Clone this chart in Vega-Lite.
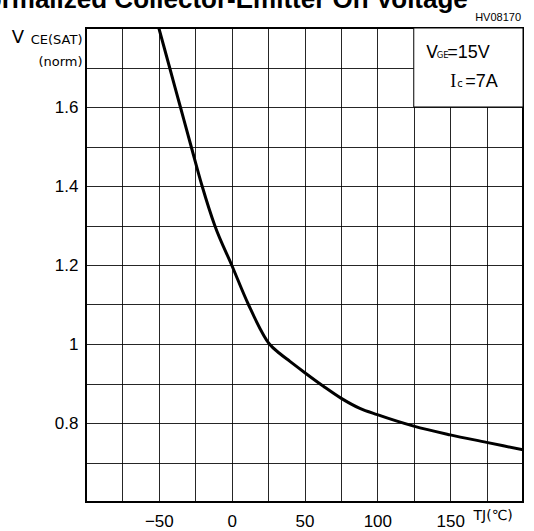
{
  "$schema": "https://vega.github.io/schema/vega-lite/v6.json",
  "width": 437,
  "height": 474,
  "autosize": {"type": "none"},
  "padding": {"left": 86, "top": 28, "right": 11, "bottom": 29},
  "background": "white",
  "config": {
    "view": {"stroke": "#000", "strokeWidth": 2},
    "axis": {
      "grid": true,
      "gridColor": "#000",
      "gridOpacity": 0.85,
      "gridWidth": 1,
      "domain": false,
      "ticks": false,
      "tickCount": 30,
      "labelFont": "Liberation Sans",
      "labelFontSize": 17,
      "labelColor": "#000",
      "titleColor": "#000",
      "titleFont": "DejaVu Sans",
      "titleFontWeight": "normal"
    }
  },
  "datasets": {
    "curve": [
      {"tj": -50, "v": 1.80},
      {"tj": -42.6, "v": 1.70},
      {"tj": -35.2, "v": 1.60},
      {"tj": -27.8, "v": 1.50},
      {"tj": -20.3, "v": 1.40},
      {"tj": -11.6, "v": 1.30},
      {"tj": 0, "v": 1.20},
      {"tj": 11.5, "v": 1.10},
      {"tj": 25.9, "v": 1.00},
      {"tj": 33, "v": 0.976},
      {"tj": 40, "v": 0.956},
      {"tj": 50, "v": 0.928},
      {"tj": 63, "v": 0.893},
      {"tj": 75, "v": 0.863},
      {"tj": 88, "v": 0.837},
      {"tj": 100, "v": 0.821},
      {"tj": 125, "v": 0.792},
      {"tj": 150, "v": 0.770},
      {"tj": 175, "v": 0.751},
      {"tj": 200, "v": 0.732}
    ],
    "one": [{}]
  },
  "layer": [
    {
      "data": {"name": "curve"},
      "mark": {"type": "line", "color": "#000", "strokeWidth": 3, "interpolate": "monotone", "clip": true},
      "encoding": {
        "x": {
          "field": "tj",
          "type": "quantitative",
          "scale": {"domain": [-100, 200], "nice": false, "zero": false},
          "axis": {
            "values": [-100, -75, -50, -25, 0, 25, 50, 75, 100, 125, 150, 175, 200],
            "tickCount": 30,
            "labelExpr": "(datum.value % 50 === 0 && datum.value > -100 && datum.value < 200) ? datum.label : ''",
            "labelPadding": 11,
            "labelFlush": false,
            "labelOverlap": false,
            "title": "TJ(℃)",
            "titleFontSize": 14,
            "titleAnchor": "start",
            "titleAlign": "left",
            "titleBaseline": "alphabetic",
            "titleX": 387,
            "titleY": 17
          }
        },
        "y": {
          "field": "v",
          "type": "quantitative",
          "scale": {"domain": [0.6, 1.8], "nice": false, "zero": false},
          "axis": {
            "values": [0.6, 0.7, 0.8, 0.9, 1.0, 1.1, 1.2, 1.3, 1.4, 1.5, 1.6, 1.7, 1.8],
            "tickCount": 30,
            "labelExpr": "(round(datum.value * 10) % 2 === 0 && datum.value > 0.75 && datum.value < 1.65) ? format(datum.value, '.1~f') : ''",
            "labelPadding": 8,
            "labelFlush": false,
            "labelOverlap": false,
            "title": ["CE(SAT)", "(norm)"],
            "titleFontSize": 13,
            "titleAngle": 0,
            "titleAlign": "right",
            "titleBaseline": "alphabetic",
            "titleLineHeight": 22,
            "titleX": -4,
            "titleY": 15
          }
        }
      }
    },
    {
      "data": {"name": "one"},
      "mark": {"type": "rect", "fill": "white", "stroke": "#000", "strokeWidth": 1},
      "encoding": {
        "x": {"datum": 125, "type": "quantitative"},
        "x2": {"datum": 200},
        "y": {"datum": 1.6, "type": "quantitative"},
        "y2": {"datum": 1.8}
      }
    },
    {
      "data": {"name": "one"},
      "mark": {"type": "text", "text": "V", "align": "right", "baseline": "alphabetic", "dx": -62, "dy": 15, "font": "DejaVu Sans", "fontSize": 18, "color": "#000"},
      "encoding": {"x": {"datum": -100}, "y": {"datum": 1.8}}
    },
    {
      "data": {"name": "one"},
      "mark": {"type": "text", "text": "Normalized Collector-Emitter On Voltage", "align": "left", "baseline": "alphabetic", "dx": -119, "dy": -20, "font": "Liberation Sans", "fontSize": 26, "fontWeight": "bold", "color": "#000"},
      "encoding": {"x": {"datum": -100}, "y": {"datum": 1.8}}
    },
    {
      "data": {"name": "one"},
      "mark": {"type": "text", "text": "V", "align": "left", "baseline": "alphabetic", "font": "DejaVu Sans", "fontSize": 17, "color": "#000"},
      "encoding": {"x": {"datum": 133.6}, "y": {"datum": 1.725}}
    },
    {
      "data": {"name": "one"},
      "mark": {"type": "text", "text": "GE", "align": "left", "baseline": "alphabetic", "dx": 10.5, "font": "DejaVu Sans", "fontSize": 8.5, "color": "#000"},
      "encoding": {"x": {"datum": 133.6}, "y": {"datum": 1.725}}
    },
    {
      "data": {"name": "one"},
      "mark": {"type": "text", "text": "=15V", "align": "left", "baseline": "alphabetic", "dx": 21, "font": "Liberation Sans", "fontSize": 18, "color": "#000"},
      "encoding": {"x": {"datum": 133.6}, "y": {"datum": 1.725}}
    },
    {
      "data": {"name": "one"},
      "mark": {"type": "text", "text": "I", "align": "left", "baseline": "alphabetic", "font": "Liberation Serif", "fontSize": 18, "color": "#000"},
      "encoding": {"x": {"datum": 150}, "y": {"datum": 1.6515}}
    },
    {
      "data": {"name": "one"},
      "mark": {"type": "text", "text": "c", "align": "left", "baseline": "alphabetic", "dx": 7, "font": "DejaVu Sans", "fontSize": 10, "color": "#000"},
      "encoding": {"x": {"datum": 150}, "y": {"datum": 1.6515}}
    },
    {
      "data": {"name": "one"},
      "mark": {"type": "text", "text": "=7A", "align": "left", "baseline": "alphabetic", "dx": 15, "font": "Liberation Sans", "fontSize": 18, "color": "#000"},
      "encoding": {"x": {"datum": 150}, "y": {"datum": 1.6515}}
    },
    {
      "data": {"name": "one"},
      "mark": {"type": "text", "text": "HV08170", "align": "right", "baseline": "alphabetic", "dx": -2, "dy": -7, "font": "Liberation Sans", "fontSize": 11, "color": "#000"},
      "encoding": {"x": {"datum": 200}, "y": {"datum": 1.8}}
    }
  ]
}
